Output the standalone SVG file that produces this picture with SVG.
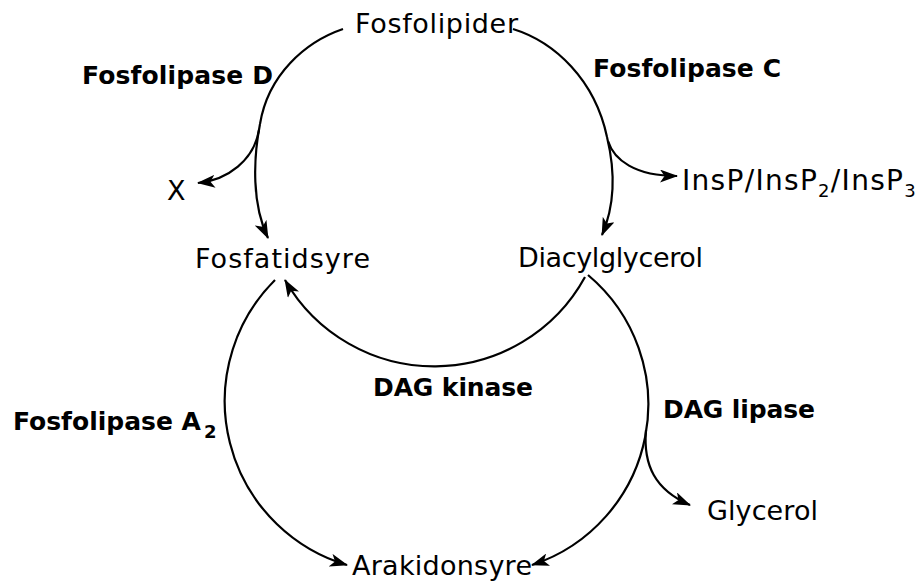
<svg xmlns="http://www.w3.org/2000/svg" width="922" height="585" viewBox="0 0 922 585">
<style>
  .t { font-family: "Comic Sans MS", "DejaVu Sans", sans-serif; font-size: 27px; fill: #000; }
  .b { font-family: "Comic Sans MS", "DejaVu Sans", sans-serif; font-size: 25px; font-weight: bold; fill: #000; }
  .sub { font-size: 18px; }
  .c { fill: none; stroke: #000; stroke-width: 2.2; marker-end: url(#ah); }
  .n { fill: none; stroke: #000; stroke-width: 2.2; }
</style>
<defs>
  <marker id="ah" markerWidth="19" markerHeight="13" refX="17" refY="6.5" orient="auto" markerUnits="userSpaceOnUse">
    <path d="M0,0 L18,6.5 L0,13 L4.5,6.5 z" fill="#000"/>
  </marker>
</defs>
<rect width="922" height="585" fill="#fff"/>
<g id="connectors">
  <path class="n" d="M343,29 C305,42 268,75 260,124"/>
  <path class="c" d="M260,124 C253,160 252,205 268,238"/>
  <path class="c" d="M259,130 C254,160 228,180 198,183"/>
  <path class="n" d="M513,29 C555,42 595,80 607,137"/>
  <path class="c" d="M607,137 C615,170 615,205 602,235"/>
  <path class="c" d="M608,141 C614,160 635,176 677,176"/>
  <path class="c" d="M275,280 A171,171 0 0 0 347,565"/>
  <path class="c" d="M588,275 A169,169 0 0 1 532,565"/>
  <path class="c" d="M585,277 A172,172 0 0 1 285,280"/>
  <path class="c" d="M646,430 C643,465 655,490 690,505"/>
</g>
<g id="fosfolipider"><text class="t" x="355" y="33" textLength="163" lengthAdjust="spacing">Fosfolipider</text></g>
<g id="fosfolipase-d"><text class="b" x="82" y="84" textLength="191" lengthAdjust="spacing">Fosfolipase D</text></g>
<g id="fosfolipase-c"><text class="b" x="593" y="77" textLength="188" lengthAdjust="spacing">Fosfolipase C</text></g>
<g id="x"><text class="t" x="167" y="200">X</text></g>
<g id="insp"><text class="t" x="682" y="190" style="font-size:28px;letter-spacing:1.3px">InsP/InsP<tspan class="sub" dy="7">2</tspan><tspan dy="-7">/InsP</tspan><tspan class="sub" dy="7">3</tspan></text></g>
<g id="fosfatidsyre"><text class="t" x="195" y="268" textLength="175" lengthAdjust="spacing">Fosfatidsyre</text></g>
<g id="diacylglycerol"><text class="t" x="518" y="267" textLength="185" lengthAdjust="spacing">Diacylglycerol</text></g>
<g id="dag-kinase"><text class="b" x="373" y="396" textLength="160" lengthAdjust="spacing">DAG kinase</text></g>
<g id="dag-lipase"><text class="b" x="663" y="418" textLength="152" lengthAdjust="spacing">DAG lipase</text></g>
<g id="fosfolipase-a2"><text class="b" x="13" y="430">Fosfolipase A<tspan class="sub" dx="3" dy="8">2</tspan></text></g>
<g id="glycerol"><text class="t" x="707" y="520" textLength="111" lengthAdjust="spacing">Glycerol</text></g>
<g id="arakidonsyre"><text class="t" x="352" y="575" textLength="180" lengthAdjust="spacing">Arakidonsyre</text></g>
</svg>
